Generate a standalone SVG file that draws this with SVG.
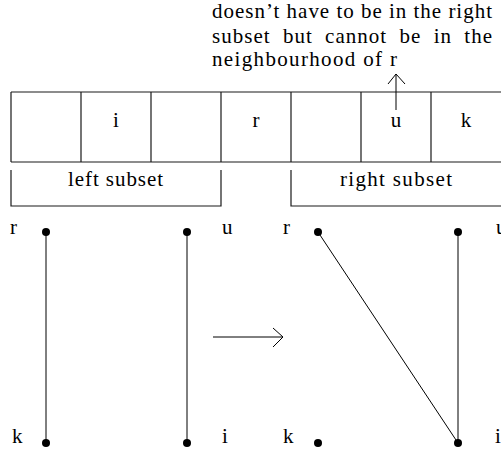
<svg xmlns="http://www.w3.org/2000/svg" width="501" height="453" viewBox="0 0 501 453">
<style>
text{font-family:"Liberation Serif","Times New Roman",serif;font-size:21px;fill:#000}
.c{text-anchor:middle}
.ln{stroke:#1a1a1a;stroke-width:1.2;fill:none}
.e{stroke:#000;stroke-width:1;fill:none}
.dot{fill:#000}
</style>
<rect width="501" height="453" fill="#fff"/>
<g id="note">
<text x="212" y="18" textLength="280" lengthAdjust="spacing">doesn’t have to be in the right</text>
<text x="212" y="43" textLength="280" lengthAdjust="spacing" word-spacing="6">subset but cannot be in the</text>
<text x="212" y="66" textLength="185" lengthAdjust="spacing">neighbourhood of r</text>
</g>
<g id="array">
<path class="ln" d="M11 92H501M11 162H501M11 92V162M81 92V162M151 92V162M221 92V162M291 92V162M361 92V162M431 92V162"/>
<text class="c" x="116" y="127">i</text>
<text class="c" x="256" y="127">r</text>
<text class="c" x="396" y="127">u</text>
<text class="c" x="466" y="127">k</text>
</g>
<g id="left-subset">
<path class="ln" d="M11 170V206H221V170"/>
<text x="68" y="186" textLength="95" lengthAdjust="spacing">left subset</text>
</g>
<g id="right-subset">
<path class="ln" d="M291 170V206H501"/>
<text x="340" y="186" textLength="112" lengthAdjust="spacing">right subset</text>
</g>
<g id="connectors">
<path class="e" d="M396 110V74M388 84L396 74L405 84"/>
<path class="e" d="M213 337H283M273 328L283 337L273 347"/>
<path class="e" d="M46 232V443M187 232V443M318 232L458 443M458 232V443"/>
</g>
<g id="left-r"><circle class="dot" cx="46" cy="232" r="4"/><text x="10" y="234">r</text></g>
<g id="left-u"><circle class="dot" cx="187" cy="232" r="4"/><text x="222" y="234">u</text></g>
<g id="left-k"><circle class="dot" cx="46" cy="443" r="4"/><text x="12" y="443">k</text></g>
<g id="left-i"><circle class="dot" cx="187" cy="443" r="4"/><text x="222" y="443">i</text></g>
<g id="right-r"><circle class="dot" cx="318" cy="232" r="4"/><text x="283" y="234">r</text></g>
<g id="right-u"><circle class="dot" cx="458" cy="232" r="4"/><text x="496" y="234">u</text></g>
<g id="right-k"><circle class="dot" cx="318" cy="443" r="4"/><text x="283" y="443">k</text></g>
<g id="right-i"><circle class="dot" cx="458" cy="443" r="4"/><text x="495" y="443">i</text></g>
</svg>
